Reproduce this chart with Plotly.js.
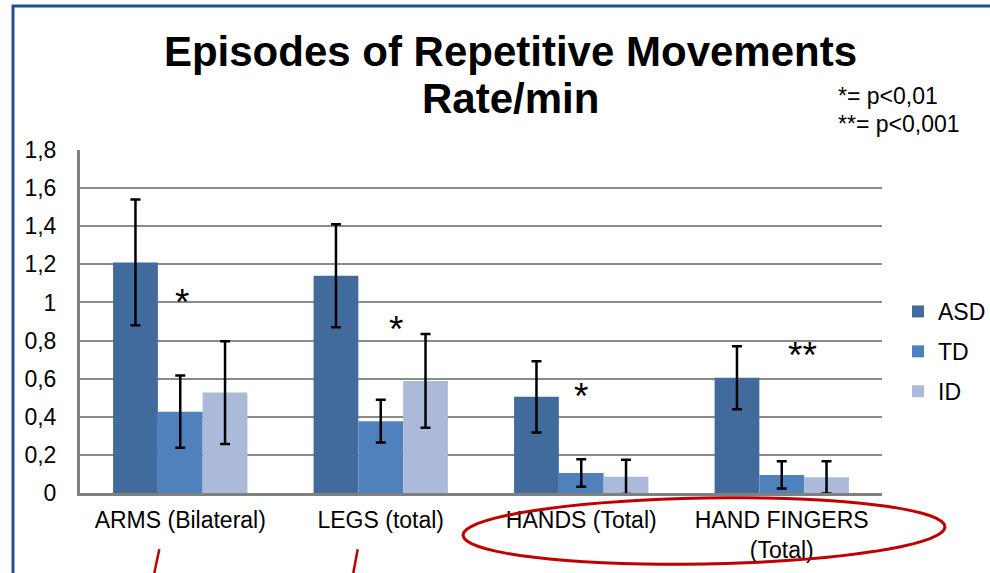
<!DOCTYPE html>
<html>
<head>
<meta charset="utf-8">
<script src="https://cdn.plot.ly/plotly-3.0.1.min.js"></script>
<style>html,body{margin:0;padding:0;background:#fff;}#chart{width:990px;height:573px;}</style>
</head>
<body>
<div id="chart"></div>
<script>
// ---- data ----
const categories = ['ARMS (Bilateral)', 'LEGS (total)', 'HANDS (Total)', 'HAND FINGERS<br>(Total)'];
const seriesNames = ['ASD', 'TD', 'ID'];
const asdValues = [1.21, 1.14, 0.505, 0.605];
const asdErrors = [0.33, 0.27, 0.187, 0.165];
const tdValues = [0.427, 0.377, 0.105, 0.095];
const tdErrors = [0.19, 0.112, 0.072, 0.072];
const idValues = [0.527, 0.588, 0.085, 0.082];
const idErrors = [0.27, 0.246, 0.09, 0.084];
const significance = ['*', '*', '*', '**'];
const titleLine1 = 'Episodes of Repetitive Movements';
const titleLine2 = 'Rate/min';
const noteLines = ['*= p<0,01', '**= p<0,001'];

// ---- layout helpers (pixel -> paper) ----
const W = 990, H = 573, ML = 80, MR = 108, MT = 150, MB = 80;
const PW = W - ML - MR, PH = H - MT - MB;
const px = x => (x - ML) / PW;
const py = y => (H - MB - y) / PH;
const FONT = 'Liberation Sans, Arial, sans-serif';

const colors = ['#426b9d', '#4f81bd', '#aabad8'];
const values = [asdValues, tdValues, idValues];
const errors = [asdErrors, tdErrors, idErrors];

const traces = seriesNames.map((name, i) => ({
  type: 'bar',
  name: name,
  x: categories,
  y: values[i],
  legendgroup: name,
  marker: {color: colors[i], line: {width: 0}},
  error_y: {type: 'data', array: errors[i], visible: true, color: '#000', thickness: 2.5, width: 5}
}));

function ellipsePath(cx, cy, rx, ry, rotDeg) {
  const r = rotDeg * Math.PI / 180;
  let d = '';
  for (let k = 0; k <= 72; k++) {
    const t = k / 72 * 2 * Math.PI;
    const ex = rx * Math.cos(t), ey = ry * Math.sin(t);
    const X = cx + ex * Math.cos(r) - ey * Math.sin(r);
    const Y = cy + ex * Math.sin(r) + ey * Math.cos(r);
    d += (k === 0 ? 'M' : 'L') + px(X).toFixed(5) + ',' + py(Y).toFixed(5);
  }
  return d + 'Z';
}

const starOffsets = [2, 15, 0, 21];
const starY = [1.0, 0.86, 0.505, 0.72];
const annotations = significance.map((s, i) => ({
  xref: 'x', yref: 'y', x: categories[i], y: starY[i], xshift: starOffsets[i],
  text: s, showarrow: false, font: {family: FONT, size: 37, color: '#000'},
  xanchor: 'center', yanchor: 'middle'
}));
annotations.push({
  xref: 'paper', yref: 'paper', x: px(510.5), y: py(98), text: '<b>' + titleLine2 + '</b>', showarrow: false,
  font: {family: FONT, size: 42, color: '#000'}, xanchor: 'center', yanchor: 'middle'
});
noteLines.forEach((t, i) => annotations.push({
  xref: 'paper', yref: 'paper', x: px(836), y: py(96 + 28 * i), text: t, showarrow: false,
  font: {family: FONT, size: 23, color: '#000'}, xanchor: 'left', yanchor: 'middle'
}));

const red = '#c00000', blue = '#23508c';
const shapes = [
  {type: 'path', xref: 'paper', yref: 'paper', path: 'M' + px(13) + ',' + py(573) + 'L' + px(13) + ',' + py(6) + 'L' + px(990) + ',' + py(6), line: {color: blue, width: 3}},
  {type: 'path', xref: 'paper', yref: 'paper', path: ellipsePath(704, 531, 241, 33, -1), line: {color: red, width: 3}},
  {type: 'line', xref: 'paper', yref: 'paper', x0: px(159.3), y0: py(549.3), x1: px(154.3), y1: py(573), line: {color: red, width: 2.5}},
  {type: 'line', xref: 'paper', yref: 'paper', x0: px(357.7), y0: py(549.3), x1: px(353.3), y1: py(573), line: {color: red, width: 2.5}}
];

const layout = {
  width: W, height: H,
  margin: {l: ML, r: MR, t: MT, b: MB, pad: 0, autoexpand: false},
  paper_bgcolor: '#fff', plot_bgcolor: '#fff',
  separators: ', ',
  font: {family: FONT, size: 23, color: '#000'},
  title: {text: '<b>' + titleLine1 + '</b>', x: 510.5 / W, xref: 'container', xanchor: 'center',
          y: 1 - 51 / H, yref: 'container', yanchor: 'middle',
          font: {family: FONT, size: 42, color: '#000'}},
  barmode: 'group', bargap: 0.33, bargroupgap: 0,
  showlegend: true,
  legend: {x: px(898), xanchor: 'left', y: py(290), yanchor: 'top', font: {family: FONT, size: 23},
           tracegroupgap: 7, itemwidth: 30, bgcolor: 'rgba(0,0,0,0)'},
  xaxis: {type: 'category', showline: true, linecolor: '#808080', linewidth: 3, ticks: '', showgrid: false,
          tickfont: {size: 23}, ticklabelstandoff: 4, zeroline: false, fixedrange: true},
  yaxis: {range: [0, 1.8], dtick: 0.2, tick0: 0, showline: true, linecolor: '#808080', linewidth: 3,
          showgrid: true, gridcolor: '#8a8a8a', gridwidth: 2, zeroline: false, ticks: '',
          tickfont: {size: 23}, ticklabelstandoff: 16, fixedrange: true},
  annotations: annotations,
  shapes: shapes
};

Plotly.newPlot('chart', traces, layout, {displayModeBar: false, staticPlot: true});
</script>
</body>
</html>
